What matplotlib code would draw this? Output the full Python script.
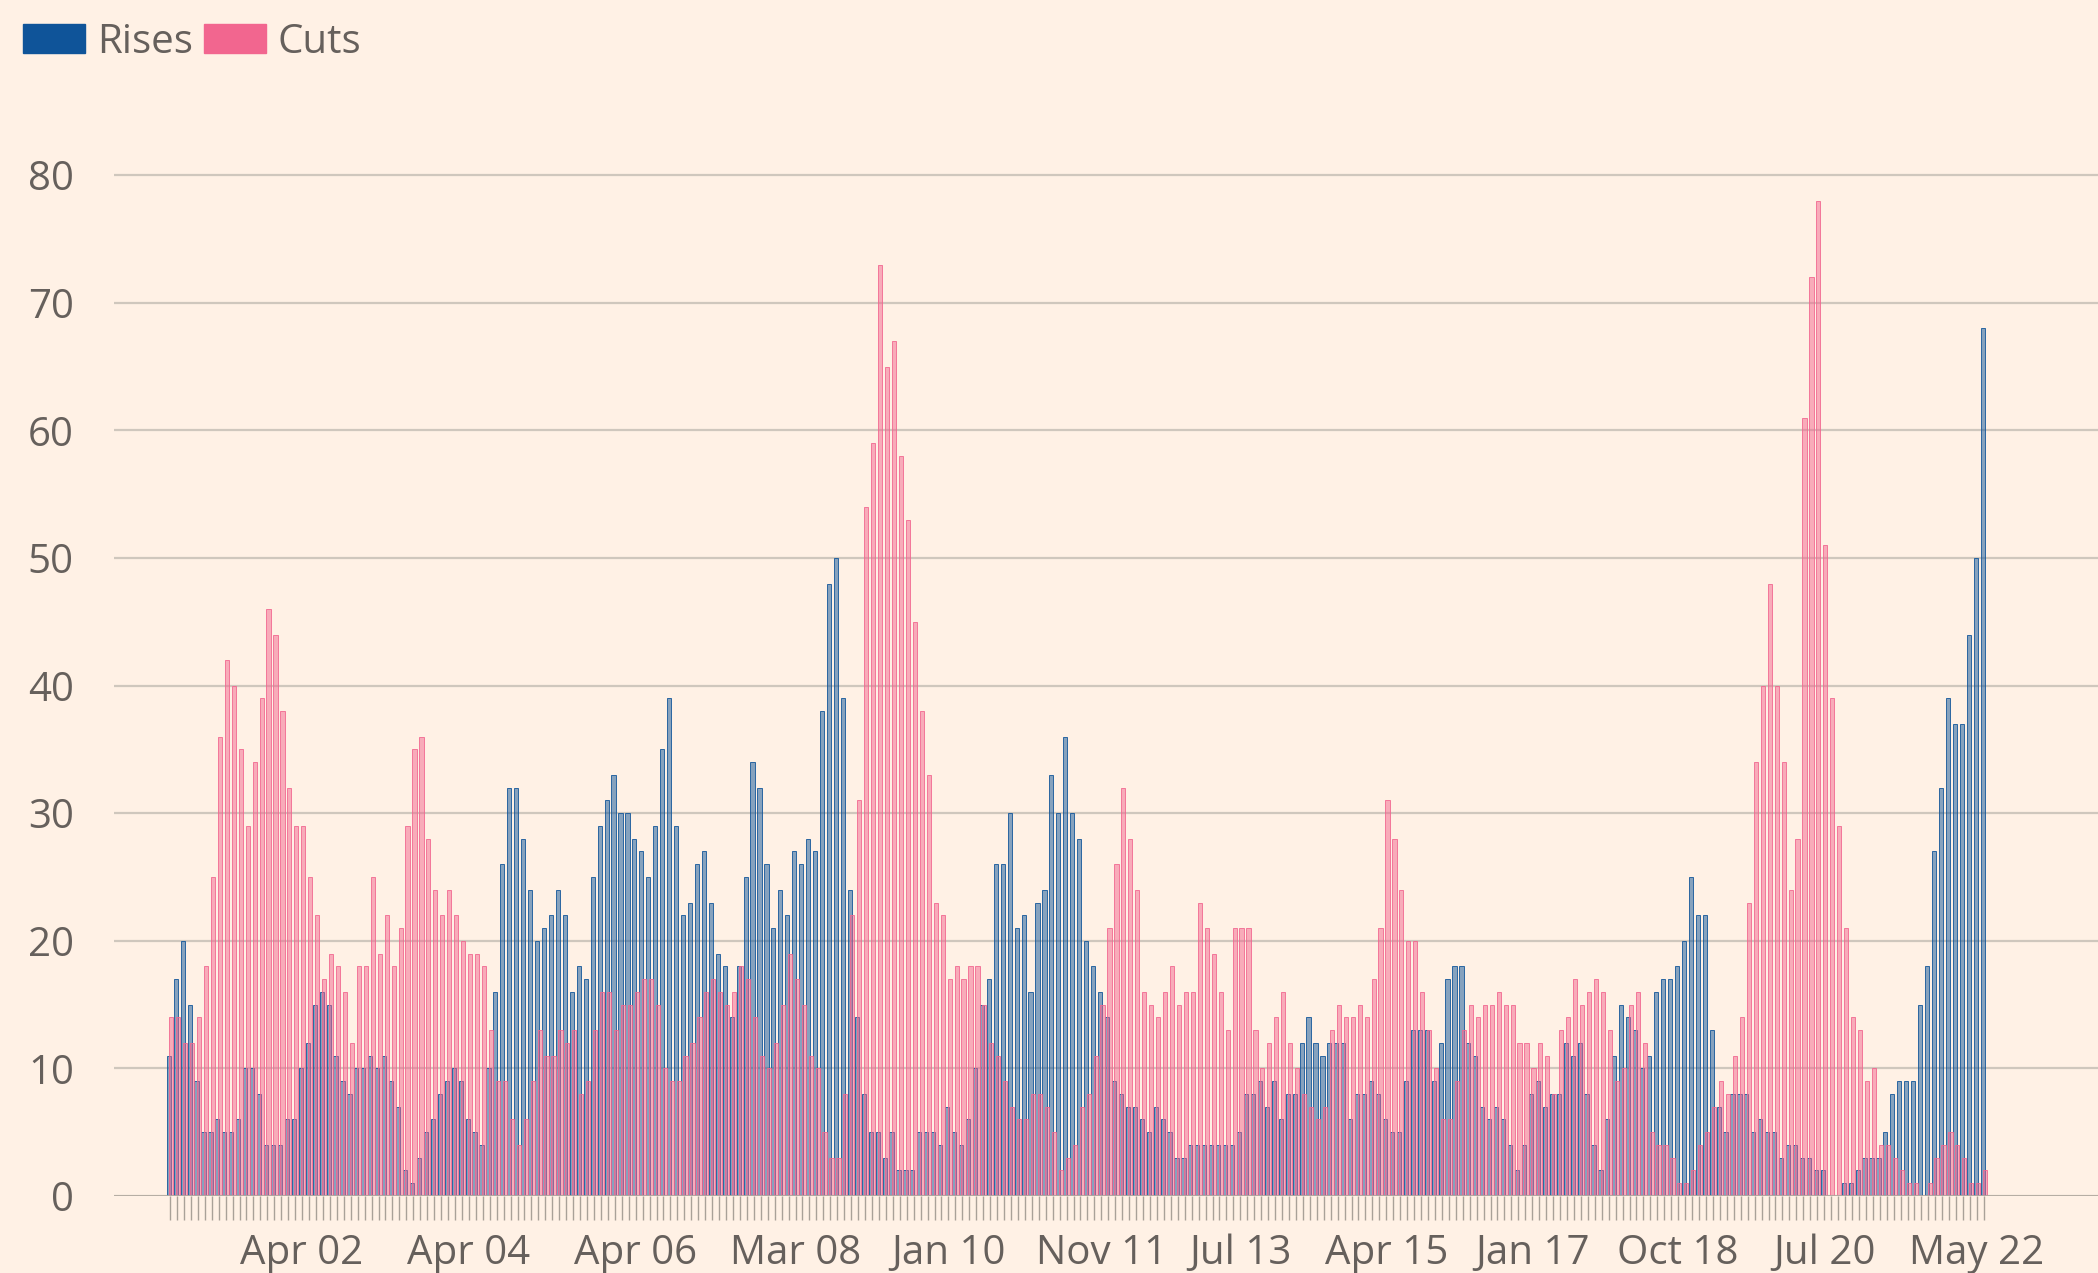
import matplotlib.pyplot as plt
import numpy as np
import pandas as pd

# -------------------------------
# Data: monthly count of central bank rate rises and cuts
# -------------------------------
months = pd.date_range("2000-09-01", "2022-06-01", freq="MS")

rises = [
    11, 17, 20, 15, 9, 5, 5, 6, 5, 5, 6, 10, 10, 8, 4, 4, 4, 6, 6, 10,
    12, 15, 16, 15, 11, 9, 8, 10, 10, 11, 10, 11, 9, 7, 2, 1, 3, 5, 6, 8,
    9, 10, 9, 6,
    5, 4, 10, 16, 26, 32, 32, 28, 24, 20, 21, 22, 24, 22, 16, 18, 17, 25, 29, 31,
    33, 30, 30, 28, 27, 25, 29, 35, 39, 29, 22, 23, 26, 27, 23, 19, 18, 14, 18, 25,
    34, 32, 26, 21, 24,
    22, 27, 26, 28, 27, 38, 48, 50, 39, 24, 14, 8, 5, 5, 3, 5, 2, 2, 2, 5,
    5, 5, 4, 7, 5, 4, 6, 10, 15, 17, 26, 26, 30, 21, 22, 16, 23, 24, 33, 30,
    36, 30, 28, 20,
    18, 16, 14, 9, 8, 7, 7, 6, 5, 7, 6, 5, 3, 3, 4, 4, 4, 4, 4, 4,
    4, 5, 8, 8, 9, 7, 9, 6, 8, 8, 12, 14, 12, 11, 12, 12, 12, 6, 8, 8,
    9, 8, 6, 5, 5,
    9, 13, 13, 13, 9, 12, 17, 18, 18, 12, 11, 7, 6, 7, 6, 4, 2, 4, 8, 9,
    7, 8, 8, 12, 11, 12, 8, 4, 2, 6, 11, 15, 14, 13, 10, 11, 16, 17, 17, 18,
    20, 25, 22, 22,
    13, 7, 5, 8, 8, 8, 5, 6, 5, 5, 3, 4, 4, 3, 3, 2, 2, 0, 0, 1,
    1, 2, 3, 3, 3, 5, 8, 9, 9, 9, 15, 18, 27, 32, 39, 37, 37, 44, 50, 68,
]

cuts = [
    14, 14, 12, 12, 14, 18, 25, 36, 42, 40, 35, 29, 34, 39, 46, 44, 38, 32, 29, 29,
    25, 22, 17, 19, 18, 16, 12, 18, 18, 25, 19, 22, 18, 21, 29, 35, 36, 28, 24, 22,
    24, 22, 20, 19,
    19, 18, 13, 9, 9, 6, 4, 6, 9, 13, 11, 11, 13, 12, 13, 8, 9, 13, 16, 16,
    13, 15, 15, 16, 17, 17, 15, 10, 9, 9, 11, 12, 14, 16, 17, 16, 15, 16, 18, 17,
    14, 11, 10, 12, 15,
    19, 17, 15, 11, 10, 5, 3, 3, 8, 22, 31, 54, 59, 73, 65, 67, 58, 53, 45, 38,
    33, 23, 22, 17, 18, 17, 18, 18, 15, 12, 11, 9, 7, 6, 6, 8, 8, 7, 5, 2,
    3, 4, 7, 8,
    11, 15, 21, 26, 32, 28, 24, 16, 15, 14, 16, 18, 15, 16, 16, 23, 21, 19, 16, 13,
    21, 21, 21, 13, 10, 12, 14, 16, 12, 10, 8, 7, 6, 7, 13, 15, 14, 14, 15, 14,
    17, 21, 31, 28, 24,
    20, 20, 16, 13, 10, 6, 6, 9, 13, 15, 14, 15, 15, 16, 15, 15, 12, 12, 10, 12,
    11, 8, 13, 14, 17, 15, 16, 17, 16, 13, 9, 10, 15, 16, 12, 5, 4, 4, 3, 1,
    1, 2, 4, 5,
    7, 9, 8, 11, 14, 23, 34, 40, 48, 40, 34, 24, 28, 61, 72, 78, 51, 39, 29, 21,
    14, 13, 9, 10, 4, 4, 3, 2, 1, 1, 0, 1, 3, 4, 5, 4, 3, 1, 1, 2,
]

tick_months = ["2002-04", "2004-04", "2006-04", "2008-03", "2010-01", "2011-11",
               "2013-07", "2015-04", "2017-01", "2018-10", "2020-07", "2022-05"]
tick_labels = ["Apr 02", "Apr 04", "Apr 06", "Mar 08", "Jan 10", "Nov 11",
               "Jul 13", "Apr 15", "Jan 17", "Oct 18", "Jul 20", "May 22"]

# -------------------------------
# Style
# -------------------------------
BG = "#fff1e5"
BLUE = "#0f5499"
PINK = "#f2668f"
TEXT = "#66605c"
GRID = "#cfc7bd"

plt.rcParams["font.family"] = ["Open Sans", "DejaVu Sans"]

W, H = 2098, 1273
fig = plt.figure(figsize=(W / 100, H / 100), dpi=100, facecolor=BG)

# axes placed in pixels: left 114, zero line at y=1196, top at y=100
ax = fig.add_axes([114 / W, (H - 1196) / H, 1 - 114 / W, (1196 - 100) / H])
ax.set_facecolor(BG)

x = np.arange(len(months))
ax.bar(x - 0.18, rises, width=0.6, color=(15/255, 84/255, 153/255, 0.5),
       edgecolor=(15/255, 84/255, 153/255, 0.85), linewidth=0.7, zorder=3)
ax.bar(x + 0.18, cuts, width=0.6, color=(242/255, 102/255, 143/255, 0.5),
       edgecolor=(242/255, 102/255, 143/255, 0.85), linewidth=0.7, zorder=3)

px_per_bar = 6.95
ax.set_xlim((114 - 170) / px_per_bar, (W - 170) / px_per_bar)
ax.set_ylim(0, (1196 - 100) / 12.76)

# y axis
ax.set_yticks(range(0, 81, 10))
ax.yaxis.grid(True, color=GRID, linewidth=1.6, zorder=0)
ax.axhline(0, color="#b3aba2", linewidth=2, zorder=4)
ax.tick_params(axis="y", length=0, pad=29, labelsize=29, labelcolor=TEXT)

# x axis: a tick for every month, labels on a few
month_keys = list(months.strftime("%Y-%m"))
tick_pos = [month_keys.index(m) for m in tick_months]
ax.set_xticks(x, minor=True)
ax.set_xticks(tick_pos)
ax.set_xticklabels(tick_labels)
for lab in ax.get_xticklabels():
    lab.set_x(lab.get_position()[0])
ax.tick_params(axis="x", which="both", length=17, width=1, color="#a9a198",
               direction="out")
ax.tick_params(axis="x", which="major", pad=10, labelsize=29, labelcolor=TEXT)

for s in ax.spines.values():
    s.set_visible(False)
ax.set_axisbelow(True)

# -------------------------------
# Legend drawn by hand at the top left
# -------------------------------
fig.patches.append(plt.Rectangle((23 / W, 1 - 53 / H), 62 / W, 29 / H,
                                 transform=fig.transFigure, color=BLUE))
fig.text(97 / W, 1 - 43 / H, "Rises", fontsize=29, color=TEXT, va="center")
fig.patches.append(plt.Rectangle((204 / W, 1 - 53 / H), 62 / W, 29 / H,
                                 transform=fig.transFigure, color=PINK))
fig.text(277 / W, 1 - 43 / H, "Cuts", fontsize=29, color=TEXT, va="center")

fig.savefig("out.png", dpi=100, facecolor=BG)
